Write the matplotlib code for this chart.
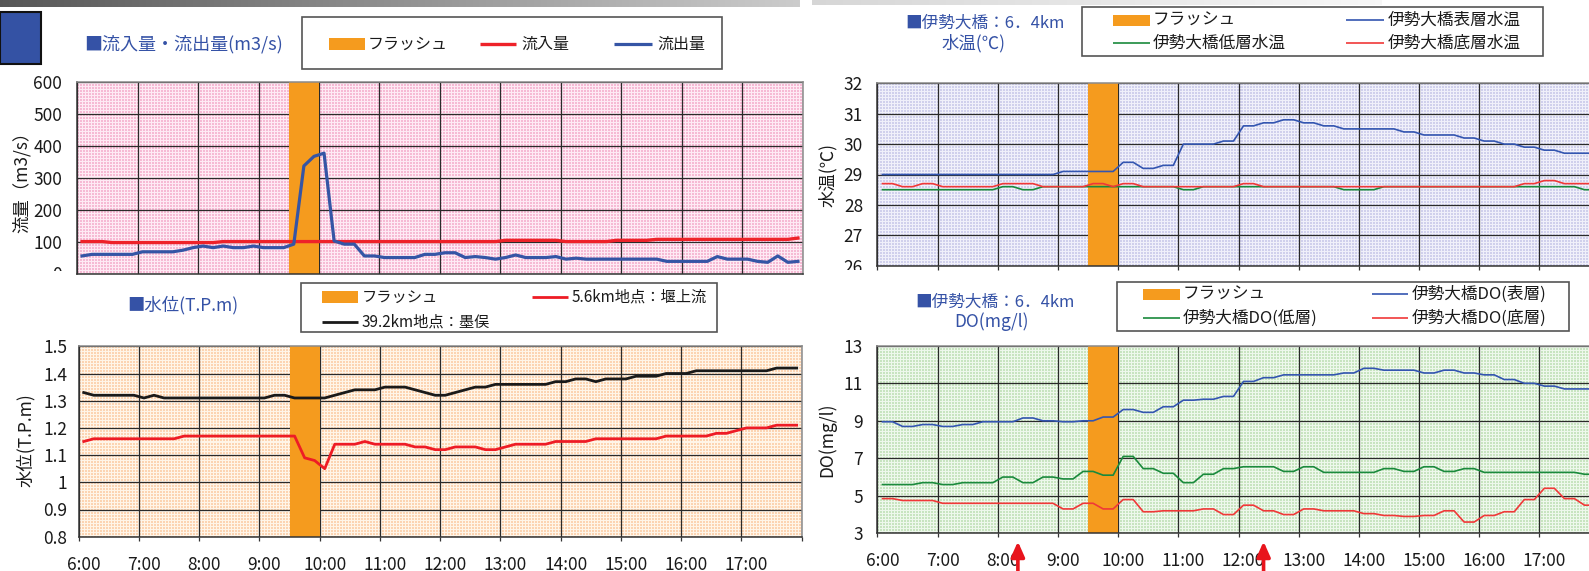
import numpy as np
import matplotlib
matplotlib.use("Agg")
import matplotlib.pyplot as plt
import matplotlib.transforms as mtransforms
from matplotlib.patches import Rectangle, FancyArrowPatch
from matplotlib.lines import Line2D

plt.rcParams['font.family'] = ['Noto Sans CJK JP', 'DejaVu Sans']

# ---------------------------------------------------------------- data
# 10-minute observations, 6:00 .. 17:50 (72 slots)
hour_labels = ['6:00', '7:00', '8:00', '9:00', '10:00', '11:00',
               '12:00', '13:00', '14:00', '15:00', '16:00', '17:00']
flash_slots = (21, 24)          # flush release 9:30 - 10:00
arrow_slots = [14.0, 38.5]      # marked times on the DO chart (8:20, 12:25)

inflow = [100, 100, 100, 97, 97, 97, 97, 97, 97, 97, 97, 97,
          97, 97, 100, 100, 100, 100, 100, 100, 100, 100, 100, 100,
          100, 100, 100, 100, 100, 100, 100, 100, 100, 100, 100, 100,
          100, 100, 100, 100, 100, 100, 104, 104, 104, 104, 104, 104,
          100, 100, 100, 100, 100, 104, 104, 104, 104, 107, 107, 107,
          107, 107, 107, 107, 107, 107, 107, 107, 107, 107, 107, 111]
outflow = [55, 60, 60, 60, 60, 60, 68, 68, 68, 68, 73, 81,
           86, 81, 86, 81, 81, 86, 81, 81, 81, 92, 337, 367,
           377, 102, 92, 92, 55, 55, 50, 50, 50, 50, 60, 60,
           65, 65, 50, 53, 50, 45, 50, 58, 50, 50, 50, 53,
           45, 48, 45, 45, 45, 45, 45, 45, 45, 45, 38, 38,
           38, 38, 38, 53, 45, 45, 45, 38, 35, 55, 35, 38]

level_sunomata = [1.33, 1.32, 1.32, 1.32, 1.32, 1.32, 1.31, 1.32, 1.31, 1.31, 1.31, 1.31,
                  1.31, 1.31, 1.31, 1.31, 1.31, 1.31, 1.31, 1.32, 1.32, 1.31, 1.31, 1.31,
                  1.31, 1.32, 1.33, 1.34, 1.34, 1.34, 1.35, 1.35, 1.35, 1.34, 1.33, 1.32,
                  1.32, 1.33, 1.34, 1.35, 1.35, 1.36, 1.36, 1.36, 1.36, 1.36, 1.36, 1.37,
                  1.37, 1.38, 1.38, 1.37, 1.38, 1.38, 1.38, 1.39, 1.39, 1.39, 1.40, 1.40,
                  1.40, 1.41, 1.41, 1.41, 1.41, 1.41, 1.41, 1.41, 1.41, 1.42, 1.42, 1.42]
level_weir = [1.15, 1.16, 1.16, 1.16, 1.16, 1.16, 1.16, 1.16, 1.16, 1.16, 1.17, 1.17,
              1.17, 1.17, 1.17, 1.17, 1.17, 1.17, 1.17, 1.17, 1.17, 1.17, 1.09, 1.08,
              1.05, 1.14, 1.14, 1.14, 1.15, 1.14, 1.14, 1.14, 1.14, 1.13, 1.13, 1.12,
              1.12, 1.13, 1.13, 1.13, 1.12, 1.12, 1.13, 1.14, 1.14, 1.14, 1.14, 1.15,
              1.15, 1.15, 1.15, 1.16, 1.16, 1.16, 1.16, 1.16, 1.16, 1.16, 1.17, 1.17,
              1.17, 1.17, 1.17, 1.18, 1.18, 1.19, 1.20, 1.20, 1.20, 1.21, 1.21, 1.21]

temp_surface = [29.0, 29.0, 29.0, 29.0, 29.0, 29.0, 29.0, 29.0, 29.0, 29.0, 29.0, 29.0,
                29.0, 29.0, 29.0, 29.0, 29.0, 29.0, 29.1, 29.1, 29.1, 29.1, 29.1, 29.1,
                29.4, 29.4, 29.2, 29.2, 29.3, 29.3, 30.0, 30.0, 30.0, 30.0, 30.1, 30.1,
                30.6, 30.6, 30.7, 30.7, 30.8, 30.8, 30.7, 30.7, 30.6, 30.6, 30.5, 30.5,
                30.5, 30.5, 30.5, 30.5, 30.4, 30.4, 30.3, 30.3, 30.3, 30.3, 30.2, 30.2,
                30.1, 30.1, 30.0, 30.0, 29.9, 29.9, 29.8, 29.8, 29.7, 29.7, 29.7, 29.7]
temp_low = [28.5, 28.5, 28.5, 28.5, 28.5, 28.5, 28.5, 28.5, 28.5, 28.5, 28.5, 28.5,
            28.6, 28.6, 28.5, 28.5, 28.6, 28.6, 28.6, 28.6, 28.6, 28.6, 28.6, 28.6,
            28.6, 28.6, 28.6, 28.6, 28.6, 28.6, 28.5, 28.5, 28.6, 28.6, 28.6, 28.6,
            28.6, 28.6, 28.6, 28.6, 28.6, 28.6, 28.6, 28.6, 28.6, 28.6, 28.5, 28.5,
            28.5, 28.5, 28.6, 28.6, 28.6, 28.6, 28.6, 28.6, 28.6, 28.6, 28.6, 28.6,
            28.6, 28.6, 28.6, 28.6, 28.6, 28.6, 28.6, 28.6, 28.6, 28.6, 28.5, 28.5]
temp_bottom = [28.7, 28.7, 28.6, 28.6, 28.7, 28.7, 28.6, 28.6, 28.6, 28.6, 28.6, 28.6,
               28.7, 28.7, 28.7, 28.7, 28.6, 28.6, 28.6, 28.6, 28.6, 28.7, 28.7, 28.6,
               28.7, 28.7, 28.6, 28.6, 28.6, 28.6, 28.6, 28.6, 28.6, 28.6, 28.6, 28.6,
               28.7, 28.7, 28.6, 28.6, 28.6, 28.6, 28.6, 28.6, 28.6, 28.6, 28.6, 28.6,
               28.6, 28.6, 28.6, 28.6, 28.6, 28.6, 28.6, 28.6, 28.6, 28.6, 28.6, 28.6,
               28.6, 28.6, 28.6, 28.6, 28.7, 28.7, 28.8, 28.8, 28.7, 28.7, 28.7, 28.7]

do_surface = [8.95, 8.95, 8.7, 8.7, 8.8, 8.8, 8.7, 8.7, 8.8, 8.8, 8.95, 8.95,
              8.95, 8.95, 9.15, 9.15, 9.0, 9.0, 8.95, 8.95, 9.0, 9.0, 9.2, 9.2,
              9.6, 9.6, 9.45, 9.45, 9.75, 9.75, 10.1, 10.1, 10.15, 10.15, 10.3, 10.3,
              11.1, 11.1, 11.3, 11.3, 11.45, 11.45, 11.45, 11.45, 11.45, 11.45, 11.55, 11.55,
              11.8, 11.8, 11.7, 11.7, 11.7, 11.7, 11.55, 11.55, 11.7, 11.7, 11.55, 11.55,
              11.45, 11.45, 11.2, 11.2, 11.0, 11.0, 10.85, 10.85, 10.7, 10.7, 10.7, 10.7]
do_low = [5.6, 5.6, 5.6, 5.6, 5.7, 5.7, 5.6, 5.6, 5.7, 5.7, 5.7, 5.7,
          6.0, 6.0, 5.7, 5.7, 6.0, 6.0, 5.9, 5.9, 6.3, 6.3, 6.1, 6.1,
          7.1, 7.1, 6.45, 6.45, 6.2, 6.2, 5.7, 5.7, 6.15, 6.15, 6.45, 6.45,
          6.55, 6.55, 6.55, 6.55, 6.3, 6.3, 6.55, 6.55, 6.25, 6.25, 6.25, 6.25,
          6.25, 6.25, 6.45, 6.45, 6.3, 6.3, 6.55, 6.55, 6.3, 6.3, 6.45, 6.45,
          6.25, 6.25, 6.25, 6.25, 6.25, 6.25, 6.25, 6.25, 6.25, 6.25, 6.15, 6.15]
do_bottom = [4.85, 4.85, 4.75, 4.75, 4.75, 4.75, 4.6, 4.6, 4.6, 4.6, 4.6, 4.6,
             4.6, 4.6, 4.6, 4.6, 4.6, 4.6, 4.3, 4.3, 4.6, 4.6, 4.3, 4.3,
             4.8, 4.8, 4.15, 4.15, 4.2, 4.2, 4.2, 4.2, 4.3, 4.3, 4.0, 4.0,
             4.5, 4.5, 4.2, 4.2, 4.0, 4.0, 4.3, 4.3, 4.2, 4.2, 4.2, 4.2,
             4.05, 4.05, 3.95, 3.95, 3.9, 3.9, 3.95, 3.95, 4.2, 4.2, 3.6, 3.6,
             3.95, 3.95, 4.15, 4.15, 4.8, 4.8, 5.4, 5.4, 4.85, 4.85, 4.5, 4.5]

# ---------------------------------------------------------------- styles
N_SLOTS = len(inflow)
slot_x = np.arange(N_SLOTS) + 0.5
FLASH = '#F59B1E'
TITLE_BLUE = '#3552A6'
GRID = '#2a2a2a'

W, H = 1589, 571
fig = plt.figure(figsize=(W / 100, H / 100), dpi=100)
fig.patch.set_facecolor('white')


def fx(x):
    return x / W


def fy(y):
    return 1 - y / H


def rect(l, t, r, b):
    return [l / W, 1 - b / H, (r - l) / W, (b - t) / H]


def dotted_background(ax, ylim, dot, gap):
    bb = ax.get_position()
    w = int(round(bb.width * W))
    h = int(round(bb.height * H))
    rr, cc = np.mgrid[0:h, 0:w]
    mask = ((rr % 3) < 2) & ((cc % 3) < 2)
    img = np.where(mask[..., None], np.array(dot) / 255.0, np.array(gap) / 255.0)
    ax.imshow(img, extent=(0, N_SLOTS, ylim[0], ylim[1]), aspect='auto',
              interpolation='nearest', zorder=0)


def setup(ax, ylim, yticks, ylabels, ypad, xpad=None):
    ax.set_xlim(0, N_SLOTS)
    ax.set_ylim(*ylim)
    ax.set_axisbelow(True)
    ax.set_xticks(np.arange(0, N_SLOTS + 1, 6))
    ax.set_xticklabels([])
    ax.set_yticks(yticks)
    ax.set_yticklabels(ylabels)
    ax.grid(True, which='major', color=GRID, lw=0.9)
    ax.tick_params(axis='y', length=0, pad=ypad, labelsize=12.5, labelcolor='#1a1a1a')
    if xpad is not None:
        ax.set_xticks(np.arange(0, N_SLOTS, 6) + 0.5, minor=True)
        ax.set_xticklabels(hour_labels, minor=True)
        ax.tick_params(axis='x', which='major', length=3, color='#333333', width=0.9)
        ax.tick_params(axis='x', which='minor', length=0, pad=xpad, labelsize=12.5,
                       labelcolor='#1a1a1a')
    else:
        ax.tick_params(axis='x', which='both', length=0)
    for side in ('left', 'bottom'):
        ax.spines[side].set_color('#333333')
        ax.spines[side].set_linewidth(1.1)
    for side in ('top', 'right'):
        ax.spines[side].set_color('#8a8a8a')
        ax.spines[side].set_linewidth(1.1)
    ax.axvspan(*flash_slots, color=FLASH, lw=0, zorder=2)


def legend_box(l, t, r, b):
    fig.add_artist(Rectangle((fx(l), fy(b)), (r - l) / W, (b - t) / H,
                             transform=fig.transFigure, facecolor='white',
                             edgecolor='#555555', lw=1.2, zorder=5))


def legend_patch(l, r, y, h=12):
    fig.add_artist(Rectangle((fx(l), fy(y + h / 2)), (r - l) / W, h / H,
                             transform=fig.transFigure, facecolor=FLASH,
                             edgecolor='none', zorder=6))


def legend_line(l, r, y, color, lw):
    fig.add_artist(Line2D([fx(l), fx(r)], [fy(y), fy(y)], transform=fig.transFigure,
                          color=color, lw=lw, zorder=6, solid_capstyle='butt'))


def legend_text(x, y, s, size=11.5):
    fig.text(fx(x), fy(y), s, ha='left', va='center', fontsize=size,
             color='#1a1a1a', zorder=7)


# ---------------------------------------------------------------- header decoration
grad = np.linspace(0.34, 0.80, 800)
bar = np.repeat(np.repeat(grad[None, :, None], 7, axis=0), 3, axis=2)
fig.figimage(bar, xo=0, yo=H - 7, origin='upper', zorder=1)
grad2 = np.linspace(0.84, 0.97, 570)
bar2 = np.repeat(np.repeat(grad2[None, :, None], 5, axis=0), 3, axis=2)
fig.figimage(bar2, xo=812, yo=H - 5, origin='upper', zorder=1)
fig.add_artist(Rectangle((0, fy(64)), 41 / W, 52 / H, transform=fig.transFigure,
                         facecolor='#3452A4', edgecolor='#111111', lw=1.5, zorder=5))

# ---------------------------------------------------------------- flow (top left)
ax_flow = fig.add_axes(rect(77, 82, 803, 273.5))
flow_lim = (0, 600)
dotted_background(ax_flow, flow_lim, (246, 186, 212), (254, 234, 244))
setup(ax_flow, flow_lim, range(0, 601, 100), [str(v) for v in range(0, 601, 100)], 10.8)
ax_flow.plot(slot_x, inflow, color='#EE2229', lw=2.4, zorder=3)
ax_flow.plot(slot_x, outflow, color='#3555A5', lw=2.3, zorder=4)
fig.text(fx(22), fy(178), '流量（m3/s）', rotation=90, ha='center', va='center',
         fontsize=12.5, color='#1a1a1a')
fig.text(fx(84), fy(44), '■流入量・流出量(m3/s)', ha='left', va='center',
         fontsize=13, color=TITLE_BLUE)
legend_box(302, 17, 722, 69)
legend_patch(329, 365, 44)
legend_text(368, 44, 'フラッシュ')
legend_line(480, 516, 44, '#EE2229', 2.4)
legend_text(521, 44, '流入量')
legend_line(614, 652, 44, '#3555A5', 2.3)
legend_text(657, 44, '流出量')

# ---------------------------------------------------------------- water level (bottom left)
ax_lvl = fig.add_axes(rect(78.7, 346.3, 801.7, 536.7))
lvl_lim = (0.8, 1.5)
lvl_ticks = [0.8, 0.9, 1.0, 1.1, 1.2, 1.3, 1.4, 1.5]
dotted_background(ax_lvl, lvl_lim, (252, 212, 178), (255, 245, 232))
setup(ax_lvl, lvl_lim, lvl_ticks, ['0.8', '0.9', '1', '1.1', '1.2', '1.3', '1.4', '1.5'],
      8.4, xpad=14.0)
ax_lvl.plot(slot_x, level_sunomata, color='#1a1a1a', lw=2.0, zorder=3)
ax_lvl.plot(slot_x, level_weir, color='#EE1C25', lw=2.0, zorder=4)
fig.text(fx(26), fy(440), '水位(T.P.m)', rotation=90, ha='center', va='center',
         fontsize=12.5, color='#1a1a1a')
fig.text(fx(127), fy(305), '■水位(T.P.m)', ha='left', va='center',
         fontsize=12.5, color=TITLE_BLUE)
legend_box(301, 283, 717, 332)
legend_patch(322, 358, 297)
legend_text(362, 297, 'フラッシュ', size=11)
legend_line(532, 568, 297, '#EE1C25', 2.0)
legend_text(572, 297, '5.6km地点：堰上流', size=11)
legend_line(322, 358, 321.5, '#1a1a1a', 2.0)
legend_text(362, 321.5, '39.2km地点：墨俣', size=11)

# ---------------------------------------------------------------- water temperature (top right)
ax_tmp = fig.add_axes(rect(877.5, 83.3, 1599.5, 265.7))
tmp_lim = (26, 32)
dotted_background(ax_tmp, tmp_lim, (208, 208, 236), (240, 240, 250))
setup(ax_tmp, tmp_lim, range(26, 33), [str(v) for v in range(26, 33)], 10.4, xpad=13)
ax_tmp.tick_params(axis='x', which='minor', labelbottom=False)
ax_tmp.plot(slot_x, temp_surface, color='#3355B0', lw=1.2, zorder=3)
ax_tmp.plot(slot_x, temp_low, color='#1A8A3C', lw=1.2, zorder=3)
ax_tmp.plot(slot_x, temp_bottom, color='#F03838', lw=1.2, zorder=4)
fig.text(fx(828), fy(175), '水温(℃)', rotation=90, ha='center', va='center',
         fontsize=12.5, color='#1a1a1a')
fig.text(fx(905), fy(23), '■伊勢大橋：6．4km', ha='left', va='center',
         fontsize=12, color=TITLE_BLUE)
fig.text(fx(974), fy(43), '水温(℃)', ha='center', va='center',
         fontsize=12.5, color=TITLE_BLUE)
legend_box(1082, 7, 1543, 56)
legend_patch(1113, 1150, 20, h=11)
legend_text(1153, 20, 'フラッシュ', size=12)
legend_line(1346, 1384, 20, '#3355B0', 1.2)
legend_text(1388, 20, '伊勢大橋表層水温', size=12)
legend_line(1113, 1150, 43, '#1A8A3C', 1.2)
legend_text(1153, 43, '伊勢大橋低層水温', size=12)
legend_line(1346, 1384, 43, '#F03838', 1.2)
legend_text(1388, 43, '伊勢大橋底層水温', size=12)

# ---------------------------------------------------------------- dissolved oxygen (bottom right)
ax_do = fig.add_axes(rect(877.5, 345.8, 1599.5, 533.3))
do_lim = (3, 13)
dotted_background(ax_do, do_lim, (200, 228, 192), (238, 248, 236))
setup(ax_do, do_lim, range(3, 14, 2), [str(v) for v in range(3, 14, 2)], 10.4, xpad=13.2)
ax_do.plot(slot_x, do_surface, color='#3355B0', lw=1.2, zorder=3)
ax_do.plot(slot_x, do_low, color='#1A8A3C', lw=1.2, zorder=3)
ax_do.plot(slot_x, do_bottom, color='#F03838', lw=1.2, zorder=4)
fig.text(fx(827), fy(440), 'DO(mg/l)', rotation=90, ha='center', va='center',
         fontsize=12.5, color='#1a1a1a')
fig.text(fx(915), fy(302), '■伊勢大橋：6．4km', ha='left', va='center',
         fontsize=12, color=TITLE_BLUE)
fig.text(fx(991), fy(322), 'DO(mg/l)', ha='center', va='center',
         fontsize=12.5, color=TITLE_BLUE)
legend_box(1117, 282, 1569, 331)
legend_patch(1143, 1180, 294, h=11)
legend_text(1183, 294, 'フラッシュ', size=12)
legend_line(1372, 1408, 294, '#3355B0', 1.2)
legend_text(1412, 294, '伊勢大橋DO(表層)', size=12)
legend_line(1143, 1180, 318, '#1A8A3C', 1.2)
legend_text(1183, 318, '伊勢大橋DO(低層)', size=12)
legend_line(1372, 1408, 318, '#F03838', 1.2)
legend_text(1412, 318, '伊勢大橋DO(底層)', size=12)

# time markers below the DO chart
mark_tf = mtransforms.blended_transform_factory(ax_do.transData, fig.transFigure)
for xs in arrow_slots:
    fig.add_artist(FancyArrowPatch((xs, fy(578)), (xs, fy(541.5)), transform=mark_tf,
                                   arrowstyle='-|>,head_length=0.45,head_width=0.2',
                                   mutation_scale=20, lw=2.6, color='#E8141C',
                                   shrinkA=0, shrinkB=0, zorder=8))

# the upper charts are cut off by the lower panels
for l, t, r, b in [(20, 270.5, 75, 283), (815, 269.5, 876, 281)]:
    fig.add_artist(Rectangle((fx(l), fy(b)), (r - l) / W, (b - t) / H,
                             transform=fig.transFigure, facecolor='white',
                             edgecolor='none', zorder=9))

fig.savefig('out.png', dpi=100, facecolor='white')
